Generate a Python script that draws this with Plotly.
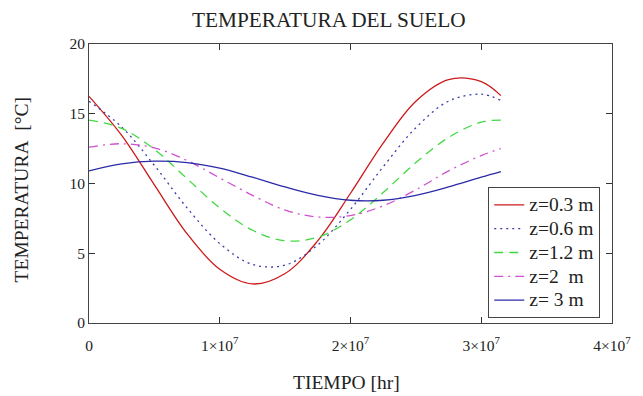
import plotly.graph_objects as go

# time (hr)
tiempo = [0.0, 0.25e7, 0.5e7, 0.75e7, 1.0e7, 1.25e7, 1.5e7, 1.75e7, 2.0e7, 2.25e7, 2.5e7, 2.75e7, 3.0e7, 3.15e7]

# temperatures (°C)
t_03 = [16.25, 13.45, 9.90, 6.40, 3.85, 2.80, 3.55, 5.90, 9.30, 12.90, 15.90, 17.45, 17.30, 16.30]
t_06 = [15.90, 14.05, 11.30, 8.25, 5.70, 4.20, 4.15, 5.60, 8.15, 11.20, 14.00, 15.90, 16.40, 15.95]
t_12 = [14.55, 13.95, 12.45, 10.35, 8.25, 6.65, 5.90, 6.15, 7.40, 9.35, 11.50, 13.30, 14.40, 14.55]
t_20 = [12.60, 12.85, 12.55, 11.65, 10.40, 9.15, 8.10, 7.60, 7.70, 8.40, 9.55, 10.90, 12.00, 12.50]
t_30 = [10.90, 11.40, 11.60, 11.50, 11.10, 10.45, 9.75, 9.15, 8.80, 8.80, 9.15, 9.75, 10.45, 10.85]

series_names = ["z=0.3 m", "z=0.6 m", "z=1.2 m", "z=2\u00a0\u00a0m", "z=\u00a03 m"]

x_tickvals = [0, 1e7, 2e7, 3e7, 4e7]
x_ticktext = ["0", "1×10<sup>7</sup>", "2×10<sup>7</sup>", "3×10<sup>7</sup>", "4×10<sup>7</sup>"]
y_tickvals = [0, 5, 10, 15, 20]

styles = [
    dict(color="#cc1a1a", dash="solid"),
    dict(color="#3a3aa8", dash="2px,4px"),
    dict(color="#40d840", dash="9px,6px"),
    dict(color="#d050d0", dash="9px,5px,2px,5px"),
    dict(color="#2a2aa8", dash="solid"),
]

FONT = "Liberation Serif, Times New Roman, serif"

fig = go.Figure()
for name, ys, st in zip(series_names, [t_03, t_06, t_12, t_20, t_30], styles):
    fig.add_trace(go.Scatter(
        x=tiempo, y=ys, mode="lines",
        name='<span style="font-size:19.5px">' + name + "</span>",
        line=dict(color=st["color"], dash=st["dash"], width=1.3, shape="spline", smoothing=1.0),
    ))

axis_common = dict(
    showgrid=False, zeroline=False, showline=True, linecolor="#444", linewidth=1,
    mirror="ticks", ticks="inside", ticklen=6, tickcolor="#333",
    tickfont=dict(family=FONT, size=15.5, color="#222"),
)

fig.update_layout(
    width=643, height=396,
    margin=dict(l=89, r=20, t=44, b=73),
    paper_bgcolor="white", plot_bgcolor="white",
    font=dict(family=FONT, color="#222"),
    showlegend=True,
    legend=dict(
        x=0.9775, y=0.4875, xanchor="right", yanchor="top",
        bordercolor="#444", borderwidth=1, bgcolor="white",
        font=dict(family=FONT, size=16, color="#222"),
        tracegroupgap=0, itemwidth=30,
    ),
    xaxis=dict(range=[0, 4e7], tickvals=x_tickvals, ticktext=x_ticktext,
               ticklabelstandoff=8, **axis_common),
    yaxis=dict(range=[0, 20], tickvals=y_tickvals, **axis_common),
    annotations=[
        dict(text="TEMPERATURA DEL SUELO", xref="paper", yref="paper",
             x=0.4588, y=1.086, xanchor="center", yanchor="middle", showarrow=False,
             font=dict(family=FONT, size=21.3, color="#222")),
        dict(text="TEMPERATURA\u00a0\u00a0[°C]", xref="paper", yref="paper",
             x=-0.1292, y=0.4767, xanchor="center", yanchor="middle", showarrow=False,
             textangle=-90, font=dict(family=FONT, size=19.5, color="#222")),
        dict(text="TIEMPO [hr]", xref="paper", yref="paper",
             x=0.4925, y=-0.2115, xanchor="center", yanchor="middle", showarrow=False,
             font=dict(family=FONT, size=19.5, color="#222")),
    ],
)

fig.write_html("out.html")
